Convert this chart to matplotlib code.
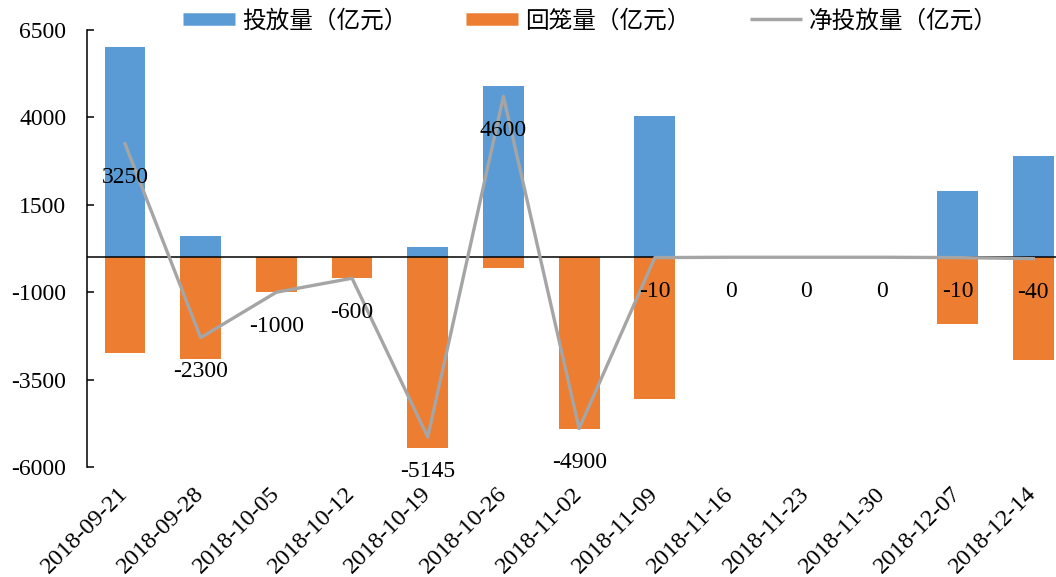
import matplotlib
matplotlib.use("Agg")
import matplotlib.pyplot as plt
from matplotlib.lines import Line2D

plt.rcParams['font.family'] = ['Liberation Serif', 'Noto Sans CJK SC']
plt.rcParams['axes.unicode_minus'] = False

# weekly data (亿元)
dates = ["2018-09-21", "2018-09-28", "2018-10-05", "2018-10-12", "2018-10-19",
         "2018-10-26", "2018-11-02", "2018-11-09", "2018-11-16", "2018-11-23",
         "2018-11-30", "2018-12-07", "2018-12-14"]
invest = [6000, 600, 0, 0, 300, 4900, 0, 4050, 0, 0, 0, 1900, 2900]
repay = [-2750, -2900, -1000, -600, -5445, -300, -4900, -4060, 0, 0, 0, -1910, -2940]
net = [3250, -2300, -1000, -600, -5145, 4600, -4900, -10, 0, 0, 0, -10, -40]
yticks = [-6000, -3500, -1000, 1500, 4000, 6500]

blue = "#5B9BD5"
orange = "#ED7D31"
gray = "#A5A5A5"

fig = plt.figure(figsize=(10.56, 5.77), dpi=100)
ax = fig.add_axes([0.0825, 0.1906, 0.9175, 0.7574])

x = list(range(len(dates)))
ax.bar(x, invest, width=0.54, color=blue, zorder=2)
ax.bar(x, repay, width=0.54, color=orange, zorder=2)
ax.axhline(0, color="black", lw=1.1, zorder=3)
ax.plot(x, net, color=gray, lw=2.4, zorder=4)

for xi, v in zip(x, net):
    ax.annotate(str(v), (xi, v), xytext=(0, -34), textcoords="offset pixels",
                ha="center", va="center", fontsize=17, zorder=5)

ax.set_xlim(-0.5, 12.3)
ax.set_ylim(-6000, 6500)
ax.set_yticks(yticks)
ax.set_yticklabels([str(t) for t in yticks])
ax.tick_params(axis="y", direction="in", length=5, width=1.1, pad=15, labelsize=17)
ax.set_xticks(x)
ax.set_xticklabels(dates, rotation=45, ha="right", va="center",
                   rotation_mode="anchor", fontsize=17.5)
ax.tick_params(axis="x", length=0, pad=17)

for s in ["top", "right", "bottom"]:
    ax.spines[s].set_visible(False)
ax.spines["left"].set_linewidth(1.1)

handles = [Line2D([], [], color=blue, lw=9, solid_capstyle="butt"),
           Line2D([], [], color=orange, lw=9, solid_capstyle="butt"),
           Line2D([], [], color=gray, lw=2.5, solid_capstyle="butt")]
labels = ["投放量（亿元）", "回笼量（亿元）", "净投放量（亿元）"]
fig.legend(handles, labels, loc="center", bbox_to_anchor=(0.559, 0.963), ncol=3,
           frameon=False, fontsize=17, handlelength=2.2, handletextpad=0.3,
           columnspacing=2.5)

fig.savefig("out.png", dpi=100)
